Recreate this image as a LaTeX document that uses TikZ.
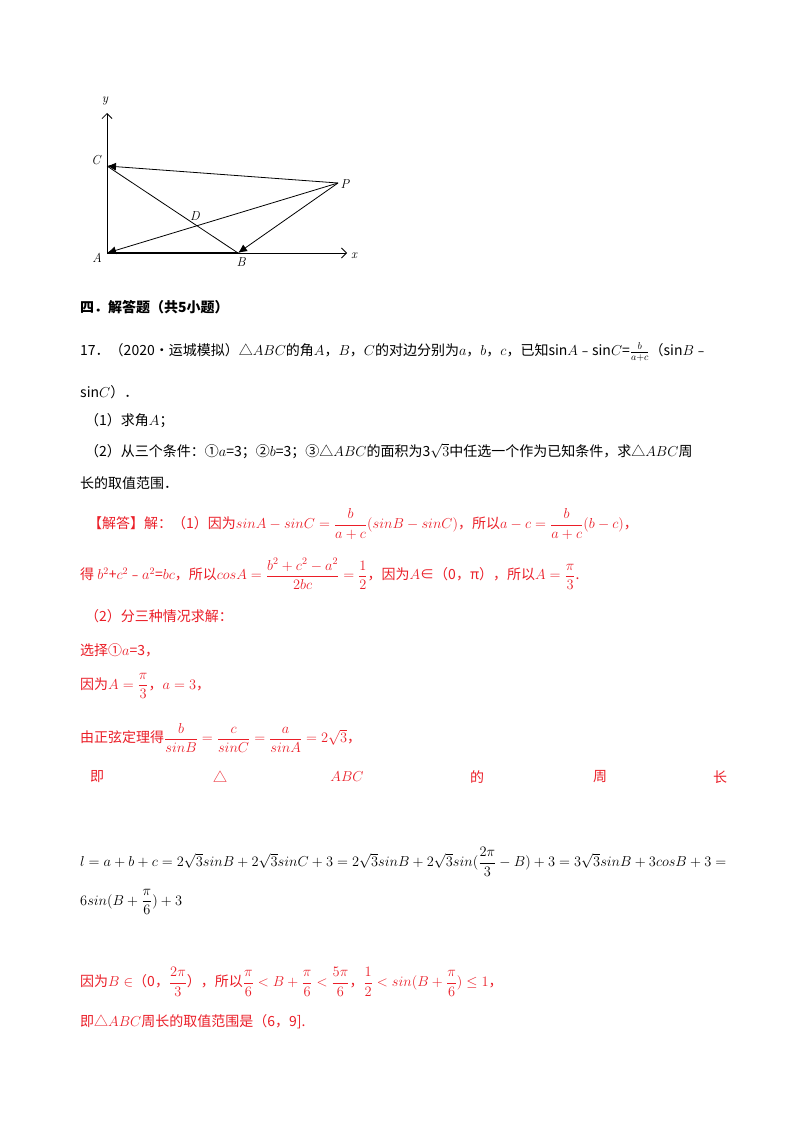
\documentclass[tikz,border=0pt]{standalone}
\usepackage{fontspec}
\usepackage{amsmath,amssymb}
\newfontfamily\cjk{Noto Sans CJK SC}
\usetikzlibrary{arrows.meta}
\definecolor{ansred}{RGB}{235,30,40}
\tikzset{
 ln/.style={anchor=west,inner sep=0pt,font=\cjk\fontsize{14}{17}\selectfont},
 rd/.style={ln,text=ansred},
 seg/.style={line width=0.8pt,-{Latex[length=9pt,width=8pt]}},
 lbl/.style={font=\fontsize{13}{15}\selectfont\itshape,inner sep=0pt}
}
\begin{document}
\begin{tikzpicture}[x=1pt,y=-1pt]
\useasboundingbox (0,0) rectangle (800,1132);
\fill[white] (0,0) rectangle (800,1132);
% diagram
\coordinate (A) at (107,253);
\coordinate (B) at (238,253);
\coordinate (C) at (107,166);
\coordinate (P) at (338,183);
\coordinate (Y) at (107,113);
\coordinate (X) at (347,253);
\draw[line width=0.8pt,-{Straight Barb[length=5pt]}] (A) -- (Y);
\draw[line width=0.8pt,-{Straight Barb[length=5pt]}] (A) -- (X);
\draw[line width=1.6pt] (A) -- (B);
\draw[line width=0.8pt] (C) -- (B);
\draw[seg] (P) -- (C);
\draw[seg] (P) -- (A);
\draw[seg] (P) -- (B);
\node[lbl] (ly) at (105,101) {y};
\node[lbl] (lx) at (354,256) {x};
\node[lbl] (lc) at (96,160) {C};
\node[lbl] (lp) at (345,184) {P};
\node[lbl] (ld) at (195,216) {D};
\node[lbl] (la) at (97,258) {A};
\node[lbl] (lb) at (241,262) {B};
% text
\node[ln,font=\cjk\bfseries\fontsize{14}{17}\selectfont] (h) at (80,307) {四．解答题（共5小题）};
\node[ln] (t1) at (80,352) {17．（2020•运城模拟）△$ABC$的角$A$，$B$，$C$的对边分别为$a$，$b$，$c$，已知sin$A$﹣sin$C$=$\frac{b}{a+c}$（sin$B$﹣};
\node[ln] (t2) at (80,392) {sin$C$）．};
\node[ln] (t3) at (85,421) {（1）求角$A$；};
\node[ln] (t4) at (85,451) {（2）从三个条件：①$a$=3；②$b$=3；③△$ABC$的面积为3$\sqrt{3}$中任选一个作为已知条件，求△$ABC$周};
\node[ln] (t5) at (80,483) {长的取值范围．};
\node[rd] (r1) at (88,524) {【解答】解：（1）因为$sinA-sinC=\dfrac{b}{a+c}(sinB-sinC)$，所以$a-c=\dfrac{b}{a+c}(b-c)$，};
\node[rd] (r2) at (80,574) {得 $b^2$+$c^2$﹣$a^2$=$bc$，所以$cosA=\dfrac{b^2+c^2-a^2}{2bc}=\dfrac{1}{2}$，因为$A$∈（0，π），所以$A=\dfrac{\pi}{3}$.};
\node[rd] (r3) at (85,616) {（2）分三种情况求解：};
\node[rd] (r4) at (80,650) {选择①$a$=3，};
\node[rd] (r5) at (80,686) {因为$A=\dfrac{\pi}{3}$，$a=3$，};
\node[rd] (r6) at (80,738) {由正弦定理得$\dfrac{b}{sinB}=\dfrac{c}{sinC}=\dfrac{a}{sinA}=2\sqrt{3}$，};
\node[rd,anchor=center] (s1) at (97,777) {即};
\node[rd,anchor=center] (s2) at (220,777) {△};
\node[rd,anchor=center] (s3) at (347,777) {$ABC$};
\node[rd,anchor=center] (s4) at (477,777) {的};
\node[rd,anchor=center] (s5) at (600,777) {周};
\node[rd,anchor=center] (s6) at (720,777) {长};
\node[ln] (m1) at (80,862) {$l=a+b+c=2\sqrt{3}sinB+2\sqrt{3}sinC+3=2\sqrt{3}sinB+2\sqrt{3}sin(\dfrac{2\pi}{3}-B)+3=3\sqrt{3}sinB+3cosB+3=$};
\node[ln] (m2) at (80,902) {$6sin(B+\dfrac{\pi}{6})+3$};
\node[rd] (r7) at (80,982) {因为$B\in$（0，$\dfrac{2\pi}{3}$），所以$\dfrac{\pi}{6}<B+\dfrac{\pi}{6}<\dfrac{5\pi}{6}$，$\dfrac{1}{2}<sin(B+\dfrac{\pi}{6})\le 1$，};
\node[rd] (r8) at (80,1022) {即△$ABC$周长的取值范围是（6，9].};
\end{tikzpicture}
\end{document}
